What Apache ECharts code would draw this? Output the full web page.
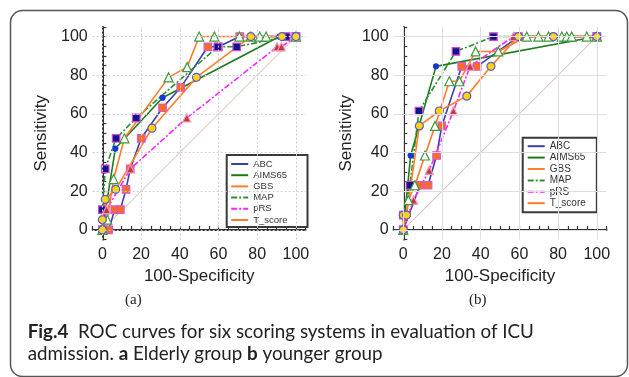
<!DOCTYPE html>
<html>
<head>
<meta charset="utf-8">
<script src="https://cdn.jsdelivr.net/npm/echarts@6/dist/echarts.min.js"></script>
<style>
  html, body { margin: 0; padding: 0; background: #fff; }
  #chart { width: 629px; height: 377px; }
</style>
</head>
<body>
<div id="chart"></div>
<script>
// ROC points [100-specificity, sensitivity]
// (a) elderly group
const abcA = [[0,0],[3.2,0],[6.4,10.5],[9.3,10.5],[12.2,21],[14.4,31.6],[20.1,47.4],[31.1,63.2],[40.5,73.7],[54.5,94.7],[60,94.7],[71,100],[100,100]];
const aims65A = [[0,0],[6.7,42.1],[31.1,68.4],[91.5,100],[100,100]];
const gbsA = [[0,0],[0,5.3],[1.5,15.8],[6.9,21],[25.6,52.6],[48.6,78.9],[76.7,100],[92.8,100],[100,100]];
const mapA = [[0,0],[0,10.5],[1.5,31.6],[7.1,47.4],[17.5,57.9],[59.6,94.7],[69.4,94.7],[95,100],[100,100]];
const prsA = [[0,0],[2.2,10.5],[14.5,31.6],[43.6,57.9],[90.3,94.7],[92.5,94.7],[100,100]];
const tscoreA = [[0,0],[2.5,5.3],[5.8,26.3],[11.4,47.4],[34.2,78.9],[43.8,84.2],[50,100],[57.9,100],[70.8,100],[76.7,100],[81.3,100],[84.6,100],[100,100]];
// (b) younger group
const abcB = [[0,0],[8.6,23.1],[12.8,23.1],[17.2,38.5],[19.9,53.8],[30.2,84.6],[38.2,84.6],[59.5,100],[100,100]];
const aims65B = [[0,0],[3.8,38.5],[16.9,84.6],[100,100]];
const gbsB = [[0,0],[0,7.7],[1.7,7.7],[8.3,53.8],[18.6,61.5],[32.8,69.2],[45.3,84.6],[59.5,100],[77.6,100],[100,100]];
const mapB = [[0,0],[0,7.7],[3.4,23.1],[8.1,61.5],[27.2,92.3],[46.6,100],[100,100]];
const prsB = [[0,0],[5.3,15.4],[13.4,30.8],[25.9,61.5],[34.5,84.6],[56.9,100],[100,100]];
const tscoreB = [[0,0],[2.6,15.4],[6,23.1],[11.2,38.5],[16.4,53.8],[23.8,76.9],[29,76.9],[37.4,92.3],[49.1,92.3],[63.8,100],[69.8,100],[75,100],[81.9,100],[84.5,100],[87,100],[94.8,100],[100,100]];

const diagonal = [[0,0],[100,100]];
const names = ['ABC', 'AIMS65', 'GBS', 'MAP', 'pRS', 'T_score'];
const gridTicks = [0, 20, 40, 60, 80, 100];

// look of each curve
const looks = {
  ABC:     { color: '#3b3ea8', type: 'solid', symbol: 'rect', size: 7.5, fill: '#ff6a22', border: '#d25ad2' },
  AIMS65:  { color: '#1f7a1f', type: 'solid', symbol: 'circle', size: 5, fill: '#1736d8', border: '#1736d8' },
  GBS:     { color: '#ff7f2a', type: 'solid', symbol: 'circle', size: 8, fill: '#ffd400', border: '#5a5ad6' },
  MAP:     { color: '#2f8f2f', type: [6, 2, 2, 2], symbol: 'rect', size: 7.5, fill: '#14148a', border: '#d04ad0' },
  pRS:     { color: '#ff22ff', type: [6, 2, 2, 2], symbol: 'triangle', size: 8, fill: '#b2404a', border: '#ff8fb0' },
  T_score: { color: '#ff7a2a', type: 'solid', symbol: 'triangle', size: 9, fill: '#ffffff', border: '#3d9a3d' }
};

const panels = [
  { ABC: abcA, AIMS65: aims65A, GBS: gbsA, MAP: mapA, pRS: prsA, T_score: tscoreA },
  { ABC: abcB, AIMS65: aims65B, GBS: gbsB, MAP: mapB, pRS: prsB, T_score: tscoreB }
];

const chart = echarts.init(document.getElementById('chart'));

function axis(type, i, gap) {
  return {
    type: 'value', gridIndex: i, min: -5, max: 105, interval: 5,
    name: type === 'x' ? '100-Specificity' : 'Sensitivity',
    nameLocation: 'middle', nameGap: gap,
    nameTextStyle: { fontFamily: 'Liberation Sans', fontSize: 17, color: '#222' },
    axisLine: { lineStyle: { color: '#333', width: 2 } },
    axisTick: { inside: true, length: 4, lineStyle: { color: '#333', width: 1.2 } },
    axisLabel: {
      margin: type === 'x' ? 7 : 5,
      fontFamily: 'Liberation Sans', fontSize: 16, color: '#222',
      formatter: v => (v >= 0 && v <= 100 && v % 20 === 0) ? String(v) : ''
    },
    splitLine: { show: false }
  };
}

const series = [];
const drawOrder = ['ABC', 'AIMS65', 'MAP', 'pRS', 'T_score', 'GBS'];
panels.forEach((p, i) => {
  const gridCol = i === 0 ? '#cfcfcf' : '#dedede';
  series.push({
    type: 'line', xAxisIndex: i, yAxisIndex: i, data: diagonal, silent: true,
    showSymbol: false, lineStyle: { color: '#dbb4b4', width: 1 },
    markLine: {
      silent: true, symbol: ['none', 'none'], label: { show: false },
      lineStyle: { color: gridCol, type: i === 0 ? [2, 2] : 'solid', width: 1 },
      data: gridTicks.map(v => ({ xAxis: v })).concat(gridTicks.map(v => ({ yAxis: v })))
    },
    z: 1
  });
  drawOrder.forEach(n => {
    const s = looks[n];
    series.push({
      name: n, type: 'line', xAxisIndex: i, yAxisIndex: i, data: p[n],
      clip: false, symbol: s.symbol, symbolSize: s.size, showAllSymbol: true,
      color: s.color,
      lineStyle: { color: s.color, width: 1.6, type: s.type },
      itemStyle: { color: s.fill, borderColor: s.border, borderWidth: 1.2 }
    });
  });
});

const legendBase = {
  orient: 'vertical', data: names, itemWidth: 17, itemHeight: 8,
  borderColor: '#3a3a3a', borderWidth: 2, backgroundColor: '#fff',
  itemStyle: { opacity: 0 }, selectedMode: false
};

chart.setOption({
  animation: false,
  backgroundColor: '#fff',
  grid: [
    { left: 92.7, top: 26.9, width: 212.9, height: 212.7 },
    { left: 393.6, top: 26.9, width: 212.9, height: 212.7 }
  ],
  xAxis: [axis('x', 0, 27), axis('x', 1, 28)],
  yAxis: [axis('y', 0, 43), axis('y', 1, 38.5)],
  legend: [
    Object.assign({}, legendBase, {
      left: 226.7, top: 155, padding: [4, 20, 2, 3.5], itemGap: 1.2,
      textStyle: { fontFamily: 'Liberation Sans', fontSize: 9.5, color: '#333' }
    }),
    Object.assign({}, legendBase, {
      left: 522.7, top: 137.7, padding: [3.5, 11, 4, 4], itemGap: 1.4,
      textStyle: { fontFamily: 'Liberation Sans', fontSize: 10, color: '#333' }
    })
  ],
  series: series,
  graphic: [
    {
      type: 'rect', silent: true, z: -1,
      shape: { x: 10.5, y: 10.5, width: 617, height: 366, r: 12 },
      style: { fill: 'none', stroke: '#555', lineWidth: 1.5 }
    },
    {
      type: 'text', left: 125, top: 293, silent: true,
      style: { text: '(a)', fontFamily: 'Liberation Serif', fontSize: 15, fill: '#222' }
    },
    {
      type: 'text', left: 469, top: 293, silent: true,
      style: { text: '(b)', fontFamily: 'Liberation Serif', fontSize: 15, fill: '#222' }
    },
    {
      type: 'text', left: 27.7, top: 322, silent: true,
      style: {
        text: '{b|Fig.4}{n|  ROC curves for six scoring systems in evaluation of ICU}',
        rich: {
          b: { fontFamily: 'Lato', fontSize: 18.8, fontWeight: 'bold', fill: '#222' },
          n: { fontFamily: 'Lato', fontSize: 18.8, fill: '#222' }
        }
      }
    },
    {
      type: 'text', left: 27.7, top: 344, silent: true,
      style: {
        text: '{n|admission. }{b|a}{n| Elderly group }{b|b}{n| younger group}',
        rich: {
          b: { fontFamily: 'Lato', fontSize: 18.8, fontWeight: 'bold', fill: '#222' },
          n: { fontFamily: 'Lato', fontSize: 18.8, fill: '#222' }
        }
      }
    }
  ]
});
</script>
</body>
</html>
